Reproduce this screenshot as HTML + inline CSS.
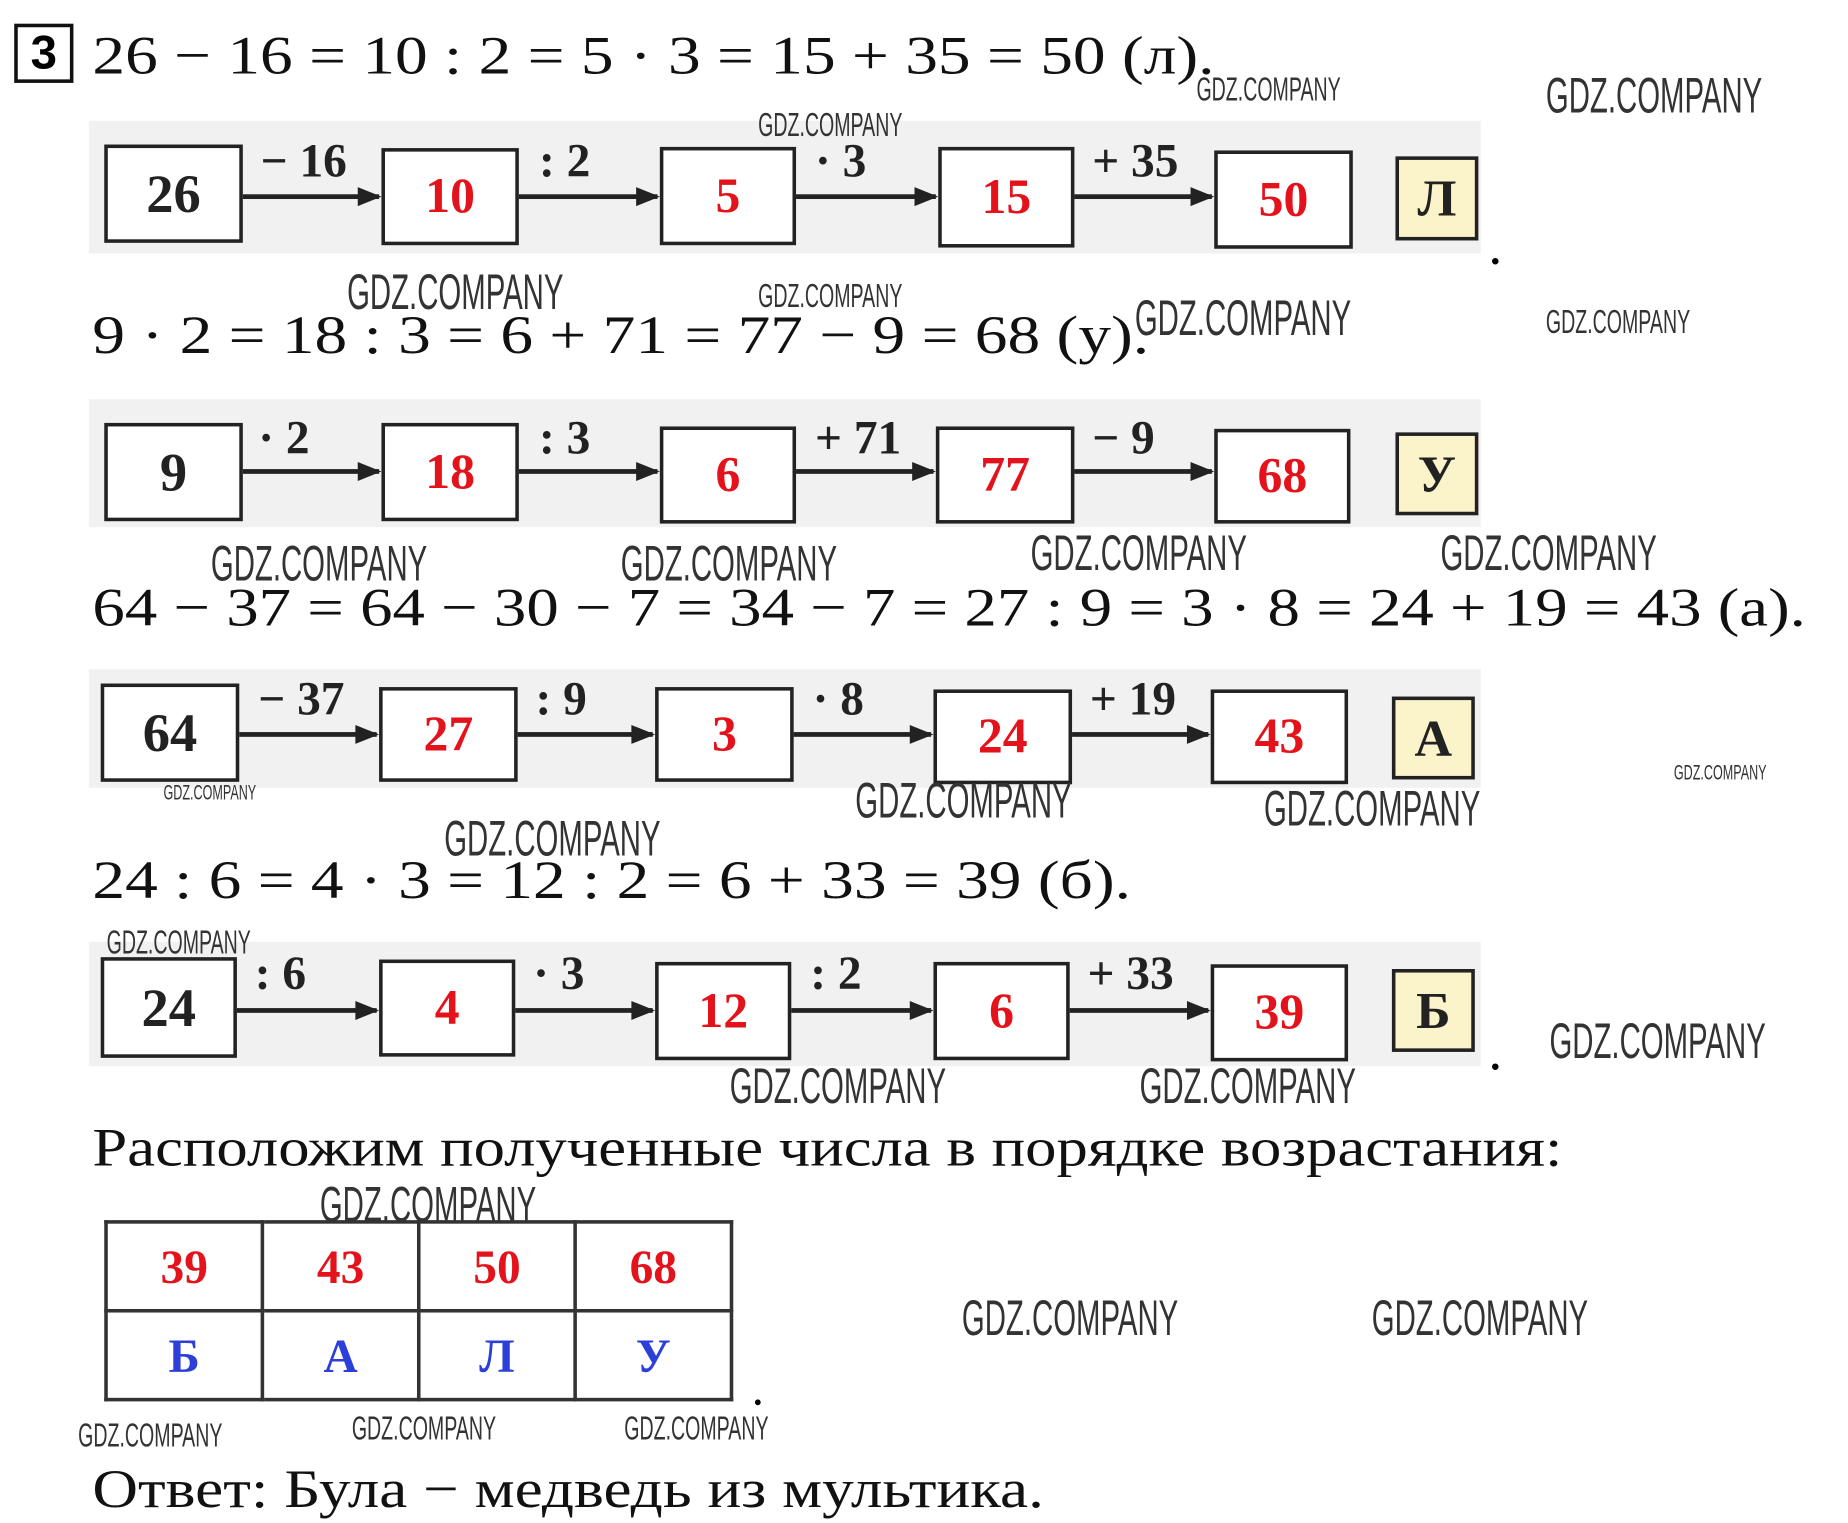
<!DOCTYPE html>
<html><head><meta charset="utf-8"><style>
html,body{margin:0;padding:0;background:#fff;}
body{width:1848px;height:1523px;overflow:hidden;position:relative;}
#w{position:absolute;left:0;top:0;width:1560px;height:1286px;transform:scale(1.1846);transform-origin:0 0;font-family:"Liberation Serif","DejaVu Serif",serif;}
.a{position:absolute;white-space:nowrap;}
.eq{font-size:46px;color:#111;line-height:1;transform-origin:0 0;}
.band{position:absolute;background:#f1f1f1;}
.bx{position:absolute;border:3px solid #222;background:#fff;box-sizing:border-box;display:flex;align-items:center;justify-content:center;font-weight:bold;font-size:42px;color:#e3121b;}
.bx.k{color:#222;font-size:46px;}
.lt{position:absolute;border:3px solid #222;background:#fbf3c9;box-sizing:border-box;display:flex;align-items:center;justify-content:center;font-weight:bold;font-size:44px;color:#222;}
.ar{position:absolute;height:4px;background:#222;}
.ar:after{content:"";position:absolute;right:-2px;top:-6px;border-left:20px solid #222;border-top:8px solid transparent;border-bottom:8px solid transparent;}
.ol{position:absolute;font-size:40px;color:#222;white-space:nowrap;line-height:1;font-weight:bold;}
.wm{position:absolute;font-family:"Liberation Sans Narrow","Liberation Sans",sans-serif;color:#333;white-space:nowrap;line-height:1;transform:scaleX(0.59);transform-origin:0 0;}
td{border:3px solid #333;width:127px;height:70px;text-align:center;font-weight:bold;font-size:40px;}
</style></head><body><div id="w">
<div class="a" style="left:12px;top:20px;width:44px;height:44px;border:3px solid #111;font-family:'Liberation Sans',sans-serif;font-weight:bold;font-size:40px;line-height:44px;text-align:center;">3</div>
<div class="a eq" style="left:78px;top:24px;transform:scaleX(1.2);">26 − 16 = 10 : 2 = 5 · 3 = 15 + 35 = 50 (л).</div>
<div class="a eq" style="left:78px;top:260px;transform:scaleX(1.2);">9 · 2 = 18 : 3 = 6 + 71 = 77 − 9 = 68 (у).</div>
<div class="a eq" style="left:78px;top:490px;transform:scaleX(1.19);">64 − 37 = 64 − 30 − 7 = 34 − 7 = 27 : 9 = 3 · 8 = 24 + 19 = 43 (а).</div>
<div class="a eq" style="left:78px;top:720px;transform:scaleX(1.2);">24 : 6 = 4 · 3 = 12 : 2 = 6 + 33 = 39 (б).</div>
<div class="a eq" style="left:78px;top:946px;transform:scaleX(1.15);">Расположим полученные числа в порядке возрастания:</div>
<div class="a eq" style="left:78px;top:1234px;transform:scaleX(1.16);">Ответ: Була − медведь из мультика.</div>

<!-- row 1 -->
<div class="band" style="left:75px;top:102px;width:1175px;height:112px;"></div>
<div class="bx k" style="left:88px;top:122px;width:117px;height:83px;">26</div>
<div class="bx" style="left:322px;top:125px;width:116px;height:82px;">10</div>
<div class="bx" style="left:557px;top:124px;width:115px;height:83px;">5</div>
<div class="bx" style="left:792px;top:124px;width:115px;height:85px;">15</div>
<div class="bx" style="left:1025px;top:127px;width:117px;height:83px;">50</div>
<div class="lt" style="left:1178px;top:132px;width:70px;height:71px;">Л</div>
<div class="ar" style="left:205px;top:164px;width:115px;"></div>
<div class="ar" style="left:438px;top:164px;width:117px;"></div>
<div class="ar" style="left:672px;top:164px;width:118px;"></div>
<div class="ar" style="left:907px;top:164px;width:116px;"></div>
<div class="ol" style="left:220px;top:116px;">− 16</div>
<div class="ol" style="left:455px;top:116px;">: 2</div>
<div class="ol" style="left:688px;top:116px;">· 3</div>
<div class="ol" style="left:922px;top:116px;">+ 35</div>
<div class="a" style="left:1258px;top:194px;font-size:34px;font-weight:bold;">.</div>

<!-- row 2 -->
<div class="band" style="left:75px;top:337px;width:1175px;height:108px;"></div>
<div class="bx k" style="left:88px;top:357px;width:117px;height:83px;">9</div>
<div class="bx" style="left:322px;top:357px;width:116px;height:83px;">18</div>
<div class="bx" style="left:557px;top:360px;width:115px;height:82px;">6</div>
<div class="bx" style="left:790px;top:360px;width:117px;height:82px;">77</div>
<div class="bx" style="left:1025px;top:362px;width:115px;height:80px;">68</div>
<div class="lt" style="left:1178px;top:365px;width:70px;height:70px;">У</div>
<div class="ar" style="left:205px;top:396px;width:115px;"></div>
<div class="ar" style="left:438px;top:396px;width:117px;"></div>
<div class="ar" style="left:672px;top:396px;width:116px;"></div>
<div class="ar" style="left:907px;top:396px;width:116px;"></div>
<div class="ol" style="left:218px;top:350px;">· 2</div>
<div class="ol" style="left:455px;top:350px;">: 3</div>
<div class="ol" style="left:688px;top:350px;">+ 71</div>
<div class="ol" style="left:922px;top:350px;">− 9</div>

<!-- row 3 -->
<div class="band" style="left:75px;top:565px;width:1175px;height:100px;"></div>
<div class="bx k" style="left:85px;top:577px;width:117px;height:83px;">64</div>
<div class="bx" style="left:320px;top:580px;width:117px;height:80px;">27</div>
<div class="bx" style="left:553px;top:580px;width:117px;height:80px;">3</div>
<div class="bx" style="left:788px;top:582px;width:117px;height:80px;">24</div>
<div class="bx" style="left:1022px;top:582px;width:116px;height:80px;">43</div>
<div class="lt" style="left:1175px;top:588px;width:70px;height:70px;">А</div>
<div class="ar" style="left:202px;top:618px;width:116px;"></div>
<div class="ar" style="left:437px;top:618px;width:114px;"></div>
<div class="ar" style="left:670px;top:618px;width:116px;"></div>
<div class="ar" style="left:905px;top:618px;width:115px;"></div>
<div class="ol" style="left:218px;top:570px;">− 37</div>
<div class="ol" style="left:452px;top:570px;">: 9</div>
<div class="ol" style="left:686px;top:570px;">· 8</div>
<div class="ol" style="left:920px;top:570px;">+ 19</div>

<!-- row 4 -->
<div class="band" style="left:75px;top:795px;width:1175px;height:105px;"></div>
<div class="bx k" style="left:85px;top:808px;width:115px;height:85px;">24</div>
<div class="bx" style="left:320px;top:810px;width:115px;height:82px;">4</div>
<div class="bx" style="left:553px;top:812px;width:115px;height:83px;">12</div>
<div class="bx" style="left:788px;top:812px;width:115px;height:83px;">6</div>
<div class="bx" style="left:1022px;top:814px;width:116px;height:82px;">39</div>
<div class="lt" style="left:1175px;top:818px;width:70px;height:70px;">Б</div>
<div class="ar" style="left:200px;top:851px;width:118px;"></div>
<div class="ar" style="left:435px;top:851px;width:116px;"></div>
<div class="ar" style="left:668px;top:851px;width:118px;"></div>
<div class="ar" style="left:903px;top:851px;width:117px;"></div>
<div class="ol" style="left:215px;top:802px;">: 6</div>
<div class="ol" style="left:450px;top:802px;">· 3</div>
<div class="ol" style="left:684px;top:802px;">: 2</div>
<div class="ol" style="left:918px;top:802px;">+ 33</div>
<div class="a" style="left:1258px;top:874px;font-size:34px;font-weight:bold;">.</div>

<!-- table -->
<table style="position:absolute;left:88px;top:1030px;border-collapse:collapse;border:3px solid #333;">
<tr><td style="color:#e3121b">39</td><td style="color:#e3121b">43</td><td style="color:#e3121b">50</td><td style="color:#e3121b">68</td></tr>
<tr><td style="color:#2c3fd8">Б</td><td style="color:#2c3fd8">А</td><td style="color:#2c3fd8">Л</td><td style="color:#2c3fd8">У</td></tr>
</table>
<div class="a" style="left:636px;top:1160px;font-size:30px;font-weight:bold;">.</div>

<!-- watermarks -->
<div class="wm" style="left:1010px;top:62px;font-size:28px;">GDZ.COMPANY</div>
<div class="wm" style="left:1305px;top:60px;font-size:42px;">GDZ.COMPANY</div>
<div class="wm" style="left:640px;top:92px;font-size:28px;">GDZ.COMPANY</div>
<div class="wm" style="left:293px;top:226px;font-size:42px;">GDZ.COMPANY</div>
<div class="wm" style="left:640px;top:236px;font-size:28px;">GDZ.COMPANY</div>
<div class="wm" style="left:958px;top:248px;font-size:42px;">GDZ.COMPANY</div>
<div class="wm" style="left:1305px;top:258px;font-size:28px;">GDZ.COMPANY</div>
<div class="wm" style="left:178px;top:455px;font-size:42px;">GDZ.COMPANY</div>
<div class="wm" style="left:524px;top:455px;font-size:42px;">GDZ.COMPANY</div>
<div class="wm" style="left:870px;top:446px;font-size:42px;">GDZ.COMPANY</div>
<div class="wm" style="left:1216px;top:446px;font-size:42px;">GDZ.COMPANY</div>
<div class="wm" style="left:722px;top:655px;font-size:42px;">GDZ.COMPANY</div>
<div class="wm" style="left:1067px;top:662px;font-size:42px;">GDZ.COMPANY</div>
<div class="wm" style="left:1413px;top:643px;font-size:18px;">GDZ.COMPANY</div>
<div class="wm" style="left:138px;top:660px;font-size:18px;">GDZ.COMPANY</div>
<div class="wm" style="left:375px;top:687px;font-size:42px;">GDZ.COMPANY</div>
<div class="wm" style="left:90px;top:782px;font-size:28px;">GDZ.COMPANY</div>
<div class="wm" style="left:1308px;top:858px;font-size:42px;">GDZ.COMPANY</div>
<div class="wm" style="left:616px;top:896px;font-size:42px;">GDZ.COMPANY</div>
<div class="wm" style="left:962px;top:896px;font-size:42px;">GDZ.COMPANY</div>
<div class="wm" style="left:270px;top:996px;font-size:42px;">GDZ.COMPANY</div>
<div class="wm" style="left:812px;top:1092px;font-size:42px;">GDZ.COMPANY</div>
<div class="wm" style="left:1158px;top:1092px;font-size:42px;">GDZ.COMPANY</div>
<div class="wm" style="left:66px;top:1198px;font-size:28px;">GDZ.COMPANY</div>
<div class="wm" style="left:297px;top:1192px;font-size:28px;">GDZ.COMPANY</div>
<div class="wm" style="left:527px;top:1192px;font-size:28px;">GDZ.COMPANY</div>
</div></body></html>
